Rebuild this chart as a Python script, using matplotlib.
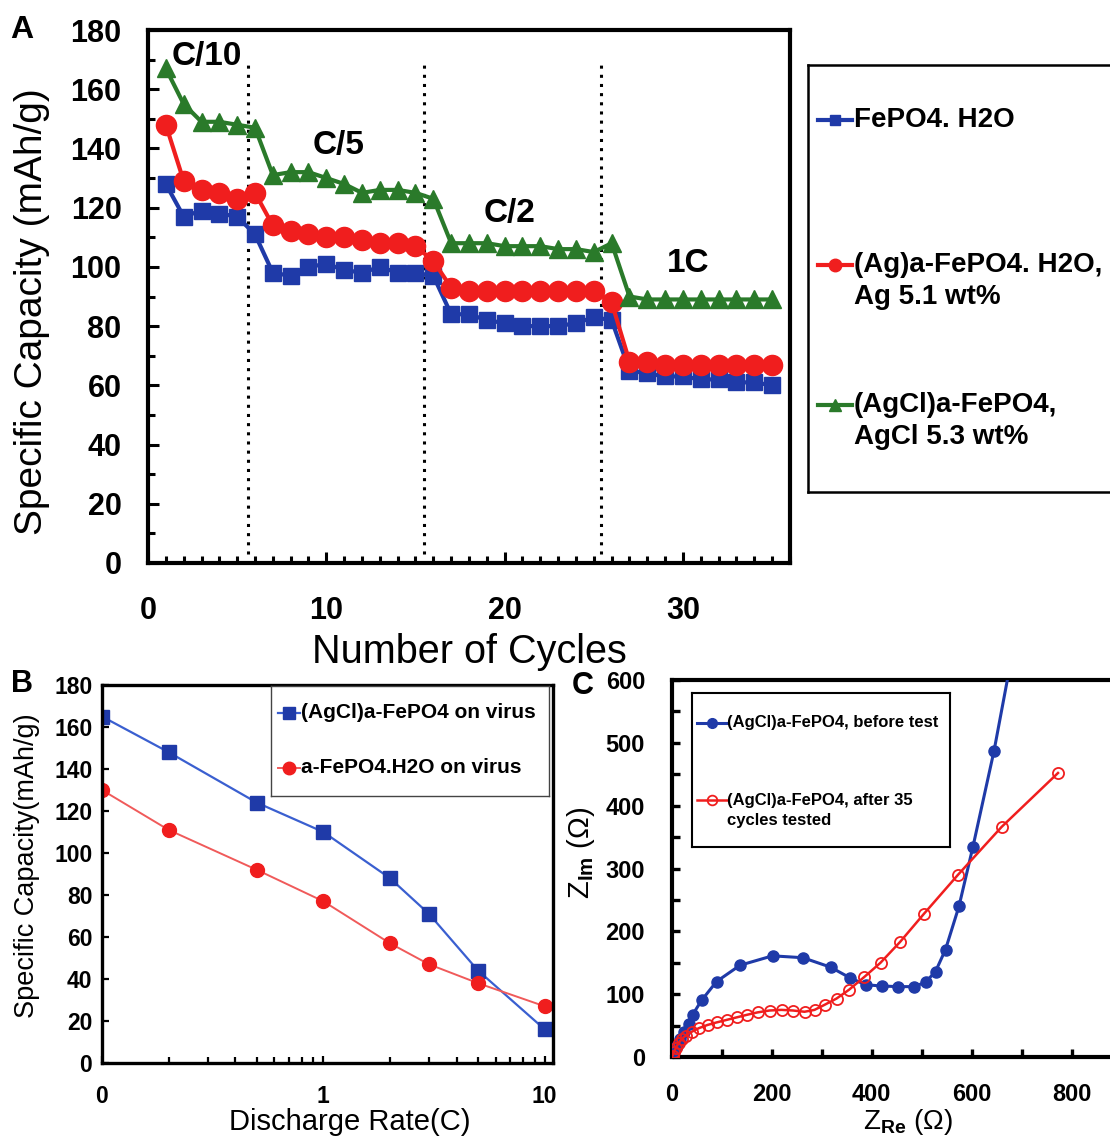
import matplotlib
matplotlib.use("Agg")
import matplotlib.pyplot as plt
from matplotlib.ticker import MultipleLocator, FixedLocator, LogLocator, NullFormatter
import numpy as np

plt.rcParams['font.family'] = ['Liberation Sans', 'DejaVu Sans']
plt.rcParams['font.weight'] = 'bold'
plt.rcParams['mathtext.fontset'] = 'custom'
plt.rcParams['mathtext.rm'] = 'Liberation Sans'
plt.rcParams['mathtext.default'] = 'rm'

W, H = 1110, 1137

# ---------------- panel A data: capacity vs cycle number
cycles = np.arange(1, 36)
cap_fepo4 = [128, 117, 119, 118, 117, 111,
             98, 97, 100, 101, 99, 98, 100, 98, 98, 97,
             84, 84, 82, 81, 80, 80, 80, 81, 83, 82,
             65, 64, 63, 63, 62, 62, 61, 61, 60]
cap_ag = [148, 129, 126, 125, 123, 125,
          114, 112, 111, 110, 110, 109, 108, 108, 107, 102,
          93, 92, 92, 92, 92, 92, 92, 92, 92, 88,
          68, 68, 67, 67, 67, 67, 67, 67, 67]
cap_agcl = [167, 155, 149, 149, 148, 147,
            131, 132, 132, 130, 128, 125, 126, 126, 125, 123,
            108, 108, 108, 107, 107, 107, 106, 106, 105, 108,
            90, 89, 89, 89, 89, 89, 89, 89, 89]
rate_names = ['C/10', 'C/5', 'C/2', '1C']
rate_bounds = [5.6, 15.5, 25.4]
label_x = [3.3, 10.7, 20.3, 30.3]
label_y = [171, 141, 118, 101]
names_a = ['FePO4. H2O', '(Ag)a-FePO4. H2O,\nAg 5.1 wt%', '(AgCl)a-FePO4,\nAgCl 5.3 wt%']

# ---------------- panel B data: capacity vs discharge rate
rates = [0.1, 0.2, 0.5, 1, 2, 3, 5, 10]
cap_agcl_virus = [165, 148, 124, 110, 88, 71, 44, 16]
cap_h2o_virus = [130, 111, 92, 77, 57, 47, 38, 27]
names_b = ['(AgCl)a-FePO4 on virus', 'a-FePO4.H2O on virus']

# ---------------- panel C data: impedance spectra
zre_before = [0, 5, 10, 16, 24, 34, 42, 60, 90, 137, 202, 263, 318, 357, 388,
              420, 453, 485, 508, 528, 548, 575, 603, 645, 700]
zim_before = [0, 8, 18, 28, 40, 52, 67, 90, 120, 146, 161, 158, 143, 126, 115,
              113, 112, 112, 119, 136, 171, 240, 335, 487, 720]
zre_after = [2, 5, 9, 14, 20, 28, 40, 55, 72, 90, 110, 130, 150, 172, 196, 220,
             243, 266, 286, 306, 330, 355, 385, 418, 457, 505, 573, 660, 773]
zim_after = [2, 8, 15, 22, 28, 34, 40, 46, 51, 55, 59, 63, 67, 71, 74, 75,
             74, 72, 75, 83, 93, 107, 127, 150, 183, 228, 290, 366, 452]
names_c = ['(AgCl)a-FePO4, before test', '(AgCl)a-FePO4, after 35\ncycles tested']

BLUE = '#1f3aa8'
RED = '#f01e1e'
GREEN = '#2a7a2a'


def px_axes(fig, x0, y0, x1, y1):
    # axes placed by pixel box (top-left origin)
    return fig.add_axes([x0 / W, 1 - y1 / H, (x1 - x0) / W, (y1 - y0) / H])


def key_box(fig, box, entries, fontsize, lw_box=1.5, edge='black'):
    x0, y0, x1, y1 = box
    ax = px_axes(fig, x0, y0, x1, y1)
    ax.set_xlim(x0, x1)
    ax.set_ylim(y1, y0)
    ax.set_xticks([])
    ax.set_yticks([])
    for s in ax.spines.values():
        s.set_linewidth(lw_box)
        s.set_edgecolor(edge)
    for hx0, hx1, y, tx, lines, dy, style in entries:
        ax.plot([hx0, (hx0 + hx1) / 2, hx1], [y, y, y], markevery=[1], **style)
        for i, ln in enumerate(lines):
            ax.text(tx, y + i * dy, ln, fontsize=fontsize, fontweight='bold',
                    va='center', ha='left')
    return ax


fig = plt.figure(figsize=(W / 100, H / 100), dpi=100)

# ================= A =================
axA = px_axes(fig, 148, 30, 790, 563)
axA.plot(cycles, cap_fepo4, '-s', color=BLUE, lw=3, ms=12, zorder=3)
axA.plot(cycles, cap_ag, '-o', color=RED, lw=3, ms=14.5, zorder=4)
axA.plot(cycles, cap_agcl, '-^', color=GREEN, lw=3, ms=13, zorder=5)
axA.vlines(rate_bounds, 3, 170, colors='black', linestyles=(0, (1, 2)), lw=2.2)
for name, x, y in zip(rate_names, label_x, label_y):
    axA.text(x, y, name, fontsize=24, fontweight='bold', ha='center', va='center', zorder=6)
axA.set_xlim(0, 36)
axA.set_ylim(0, 180)
axA.xaxis.set_major_locator(MultipleLocator(10))
axA.xaxis.set_minor_locator(MultipleLocator(1))
axA.yaxis.set_major_locator(MultipleLocator(20))
axA.yaxis.set_minor_locator(MultipleLocator(10))
axA.tick_params(which='both', direction='in', width=2.2, labelsize=22)
axA.tick_params(which='major', length=8)
axA.tick_params(which='minor', length=5)
axA.tick_params(axis='y', pad=19)
axA.tick_params(axis='x', pad=24)
for s in axA.spines.values():
    s.set_linewidth(3)
fig.text(469 / W, 1 - 652 / H, 'Number of Cycles', fontsize=28.5, fontweight='normal',
         ha='center', va='center')
fig.text(32 / W, 1 - 312 / H, 'Specific Capacity (mAh/g)', fontsize=28, fontweight='normal',
         ha='center', va='center', rotation=90)
fig.text(22 / W, 1 - 30 / H, 'A', fontsize=23, fontweight='heavy', ha='center', va='center')

key_box(fig, (808, 65, 1130, 492), [
    (818, 852, 120, 854, names_a[0].split('\n'), 32,
     dict(color=BLUE, lw=3, marker='s', ms=7)),
    (818, 852, 265, 854, names_a[1].split('\n'), 32,
     dict(color=RED, lw=3, marker='o', ms=9)),
    (818, 852, 405, 854, names_a[2].split('\n'), 32,
     dict(color=GREEN, lw=3, marker='^', ms=9)),
], fontsize=20, lw_box=1.8)

# ================= B =================
axB = px_axes(fig, 102, 685, 553, 1063)
axB.plot(rates, cap_agcl_virus, '-s', color='#3a5fd0', mfc=BLUE, mec=BLUE, lw=1.6, ms=10)
axB.plot(rates, cap_h2o_virus, '-o', color='#f05a5a', mfc=RED, mec=RED, lw=1.4, ms=10)
axB.set_xscale('log')
axB.set_xlim(0.1, 10.9)
axB.set_ylim(0, 180)
axB.xaxis.set_major_locator(FixedLocator([0.1, 1, 10]))
axB.set_xticklabels(['0', '1', '10'])
axB.xaxis.set_minor_locator(LogLocator(base=10, subs=np.arange(2, 10)))
axB.xaxis.set_minor_formatter(NullFormatter())
axB.yaxis.set_major_locator(MultipleLocator(20))
axB.tick_params(which='both', direction='in', width=1.6, labelsize=16.5)
axB.tick_params(which='major', length=5)
axB.tick_params(which='minor', length=4)
axB.tick_params(axis='y', pad=7)
axB.tick_params(axis='x', pad=16)
for s in axB.spines.values():
    s.set_linewidth(2.4)
fig.text(350 / W, 1 - 1122 / H, 'Discharge Rate(C)', fontsize=21, fontweight='normal',
         ha='center', va='center')
fig.text(27 / W, 1 - 866 / H, 'Specific Capacity(mAh/g)', fontsize=19.5, fontweight='normal',
         ha='center', va='center', rotation=90)
fig.text(22 / W, 1 - 684 / H, 'B', fontsize=22, fontweight='heavy', ha='center', va='center')

key_box(fig, (271, 686, 549, 796), [
    (278, 300, 713, 301, [names_b[0]], 0,
     dict(color='#3a5fd0', lw=1.6, marker='s', ms=9, mfc=BLUE, mec=BLUE)),
    (278, 300, 768, 301, [names_b[1]], 0,
     dict(color='#f05a5a', lw=1.4, marker='o', ms=9, mfc=RED, mec=RED)),
], fontsize=15, lw_box=1.0, edge='#444444')

# ================= C =================
axC = px_axes(fig, 671.5, 680, 1121.5, 1057)
axC.plot(zre_before, zim_before, '-o', color=BLUE, lw=2.2, ms=8, zorder=3)
axC.plot(zre_after, zim_after, '-o', color=RED, lw=1.8, ms=8, mfc='none', mew=1.3, zorder=4)
axC.set_xlim(0, 900)
axC.set_ylim(0, 600)
axC.xaxis.set_major_locator(MultipleLocator(200))
axC.xaxis.set_minor_locator(MultipleLocator(100))
axC.yaxis.set_major_locator(MultipleLocator(100))
axC.yaxis.set_minor_locator(MultipleLocator(50))
axC.tick_params(which='both', direction='in', width=2.4, length=6, labelsize=17)
axC.tick_params(axis='y', pad=19)
axC.tick_params(axis='x', pad=19)
for s in axC.spines.values():
    s.set_linewidth(3)
axC.spines['right'].set_visible(False)
fig.text(908 / W, 1 - 1122 / H, r'Z$_{\mathrm{Re}}$ (Ω)', fontsize=20, fontweight='normal',
         ha='center', va='center')
fig.text(581 / W, 1 - 853 / H, r'Z$_{\mathrm{Im}}$ (Ω)', fontsize=21, fontweight='normal',
         ha='center', va='center', rotation=90)
fig.text(583 / W, 1 - 686 / H, 'C', fontsize=22, fontweight='heavy', ha='center', va='center')

key_box(fig, (692, 693, 950, 847), [
    (697, 727, 723, 727, [names_c[0]], 0,
     dict(color=BLUE, lw=2.2, marker='o', ms=7)),
    (697, 727, 800, 727, names_c[1].split('\n'), 21,
     dict(color=RED, lw=1.8, marker='o', ms=7, mfc='none', mew=1.3)),
], fontsize=12, lw_box=1.5)

fig.savefig('out.png', dpi=100)
